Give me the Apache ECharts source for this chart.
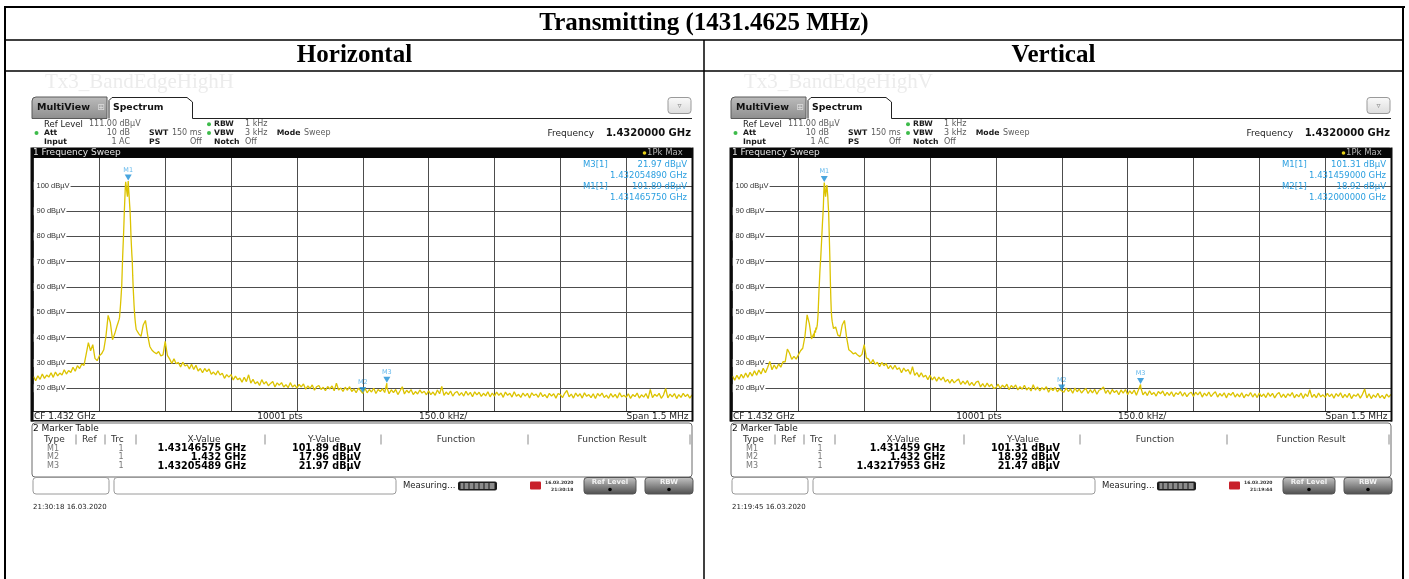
<!DOCTYPE html>
<html>
<head>
<meta charset="utf-8">
<title>Transmitting (1431.4625 MHz)</title>
<script src="https://cdn.jsdelivr.net/npm/echarts@6.0.0/dist/echarts.min.js"></script>
<style>
html, body { margin: 0; padding: 0; background: #fff; }
#chart { width: 1409px; height: 579px; }
</style>
</head>
<body>
<div id="chart"></div>
<script>
// ---------- measurement data ----------
const tableTitle = 'Transmitting (1431.4625 MHz)';
const centerFreqGHz = 1.432;
const spanKHz = 1500;
const sweepPoints = 10001;
const refLevel = 111;
const yTicks = [20, 30, 40, 50, 60, 70, 80, 90, 100];
const traceStepKHz = 5;            // spacing of the trace level lists below

// Horizontal polarisation
const hTitle = 'Horizontal';
const hFileName = 'Tx3_BandEdgeHighH';
// trace level (dBµV) every 5 kHz, starting at CF - 750 kHz
const hTraceLevels = [
  24.6, 23.0, 24.9, 23.5, 25.6, 23.9, 25.2, 24.4, 26.1, 24.3, 26.4, 24.9, 26.0, 25.2, 27.3, 25.6, 27.0, 26.2, 28.3, 26.7,
  28.9, 27.8, 29.6, 29.0, 33.5, 38.0, 34.8, 37.2, 31.8, 30.9, 32.8, 33.6, 35.2, 40.5, 48.8, 46.0, 39.2, 41.5,
  44.5, 47.2, 60.5, 80.2, 101.6, 99.5, 90.0, 70.2, 50.2, 42.8,
  41.5, 40.5, 45.0, 46.8, 41.0, 36.5, 35.0, 34.2, 33.6, 34.5, 32.8, 33.2, 38.5, 33.0,
  31.6, 29.8, 31.6, 29.7, 30.2, 28.4, 30.3, 28.8, 29.3, 27.6, 29.5, 27.4, 29.1, 26.8, 27.8, 26.1, 27.8, 26.6, 27.6, 25.5,
  26.4, 25.3, 26.9, 25.2, 25.9, 23.9, 25.4, 24.4, 25.4, 23.3, 24.8, 23.4, 24.0, 22.4, 24.3, 22.6, 25.3, 22.0,
  23.5, 21.8, 22.6, 21.1, 23.4, 21.7, 22.6, 21.0, 21.9, 22.7, 20.5, 22.1, 21.2, 22.2, 20.5, 21.4, 20.2, 22.2, 20.5, 21.3,
  20.0, 21.5, 20.5, 21.7, 19.6, 20.9, 19.9, 21.3, 19.2, 20.6, 21.1, 19.5, 20.4, 19.0, 20.7, 19.7, 20.9, 19.0, 22.0, 19.3,
  20.1, 18.7, 20.4, 19.2, 20.6, 18.7, 19.7, 18.2, 20.0, 19.1,
  17.96,
  20.0, 18.2, 19.5, 18.5, 20.0, 17.9, 19.5, 18.7, 19.8, 18.3, 20.3, 17.8, 19.4, 18.3, 19.5, 17.5, 19.0, 20.6, 17.7, 19.2,
  18.2, 19.5, 17.5, 18.7, 17.7, 19.3, 18.1, 18.8, 17.4,
  19.0, 17.5, 18.5, 17.2, 19.3, 17.8, 20.7, 17.2, 18.5, 17.5, 18.9, 16.9, 18.2, 18.7, 17.2, 18.3, 16.9, 18.8, 17.3, 18.4,
  16.6, 18.6, 17.4, 18.4, 16.8, 18.0, 17.0, 18.6, 16.6, 18.1,
  16.9, 18.5, 17.2, 18.1, 16.4, 18.5, 17.2, 18.0, 16.5, 18.6, 16.8, 17.6, 16.4, 18.1, 16.9, 18.0, 16.1, 18.2, 17.1, 17.7,
  16.4, 18.3, 16.7, 17.5, 16.2, 18.0, 16.9, 17.8, 16.1, 17.9,
  17.5, 16.3, 18.0, 19.1, 16.6, 17.7, 16.1, 18.1, 16.8, 17.8, 16.1, 18.2, 16.8, 17.5, 16.3, 17.8, 15.9, 17.9, 16.9, 18.1,
  16.3, 17.3, 16.0, 17.9, 16.5, 17.6, 16.1, 18.2, 16.6, 17.2,
  16.4, 17.8, 16.0, 17.5, 16.7, 18.1, 16.1, 17.4, 16.5, 17.9, 15.9, 19.5, 16.3, 17.6, 16.8, 18.0, 16.0, 17.3, 19.9, 16.2,
  17.7, 16.6, 17.9, 15.9, 17.5, 16.4, 18.0, 16.7, 17.6, 16.1, 17.4
];
// carrier detail, 1 kHz apart, from 190 kHz above the start frequency
const hPeakStartKHz = 190;
const hPeakLevels = [
  44.5, 45.2, 44.0, 46.1, 45.5, 47.2, 48.0, 50.3, 52.5, 55.0,
  57.8, 60.5, 66.0, 71.5, 76.0, 80.2, 85.0, 90.3, 94.5, 99.0,
  101.6, 100.2, 98.5, 97.0, 95.7, 99.8, 101.2, 98.0, 95.5, 92.5,
  90.0, 85.5, 80.3, 76.5, 73.0, 70.2, 64.5, 60.0, 56.5, 53.0,
  50.2, 47.8, 46.0, 44.5, 43.2, 42.8
];
const hMarkerNames = ['M1', 'M2', 'M3'];
const hMarkerFreqGHz = [1.43146575, 1.432, 1.43205489];
const hMarkerLevels = [101.89, 17.96, 21.97];
const hInfoMarkers = ['M3', 'M1'];
const hDate = '16.03.2020';
const hScreenTime = '21:30:18';
const hSavedAt = '21:30:18 16.03.2020';

// Vertical polarisation
const vTitle = 'Vertical';
const vFileName = 'Tx3_BandEdgeHighV';
const vTraceLevels = [
  24.8, 23.2, 25.1, 23.6, 25.5, 24.0, 26.0, 24.3, 26.3, 24.8, 26.9, 25.1, 27.2, 25.6, 27.9, 26.1, 28.2, 30.6, 27.3, 29.2,
  27.6, 29.6, 28.3, 30.5, 30.4, 35.5, 33.8, 31.4, 32.6, 31.5, 33.2, 34.8, 35.8, 40.5, 49.0, 45.5, 39.5,
  41.5, 44.0, 49.5, 69.0, 85.5, 99.8, 100.3, 83.0, 50.5, 43.6,
  44.2, 41.0, 40.5, 45.0, 46.8, 40.0, 35.2, 34.5, 33.6, 34.0, 33.1, 32.5, 33.4, 37.2, 32.0,
  31.5, 29.7, 31.3, 29.5, 30.3, 28.5, 30.2, 28.9, 29.8, 27.7, 29.0, 27.5, 29.1, 27.4, 28.1, 26.1, 28.0, 26.7, 27.4, 25.5,
  28.5, 25.1, 26.2, 24.5, 26.1, 24.4, 25.1, 23.4,
  25.1, 23.3, 24.5, 22.8, 24.4, 23.2, 24.4, 22.5, 23.5, 22.0,
  23.5, 22.1, 23.0, 23.6, 21.5, 22.8, 21.6, 23.0, 21.1, 22.3, 21.0, 22.4, 22.8, 20.5, 21.8, 20.4, 22.0, 20.6, 21.6, 19.9,
  20.2, 21.6, 19.9, 21.2, 20.3, 21.6, 19.4, 21.1, 20.1, 21.3, 19.3, 20.6, 19.6, 21.2, 19.3, 20.3, 18.9, 21.4, 19.3, 20.5,
  18.9, 20.2, 19.4, 20.6, 18.4, 20.1, 19.1, 20.3, 18.6, 19.7,
  18.92,
  18.4, 20.1, 18.7, 19.7, 18.0, 20.1, 18.6, 19.7, 18.1, 19.2, 19.9, 17.9, 19.4, 18.2, 19.6, 17.6, 19.2, 19.6, 20.5, 18.0,
  19.3, 17.6, 19.5, 18.3, 19.1, 17.4, 19.3, 18.1, 19.5,
  17.5, 19.0, 17.8, 19.3, 17.2, 19.5, 20.3, 17.4, 18.6, 17.1, 19.0, 17.5, 18.3, 16.9, 18.7, 17.8, 18.9, 17.0, 18.4, 17.2,
  18.6, 16.7, 18.2, 17.5, 18.7, 16.9, 18.3, 16.7, 17.9, 18.4,
  16.8, 18.4, 17.4, 18.6, 16.5, 18.1, 17.0, 18.5, 16.7, 17.8, 18.6, 16.5, 17.9, 16.9, 18.2, 16.2, 18.0, 17.2, 18.4, 16.5,
  17.8, 16.6, 18.2, 16.2, 17.6, 16.9, 18.3, 16.5, 17.9, 16.3,
  18.1, 16.7, 17.7, 16.3, 18.2, 16.8, 18.0, 16.2, 17.6, 18.3, 16.4, 17.7, 16.3, 17.8, 16.9, 18.3, 16.2, 17.6, 16.6, 18.1,
  16.0, 17.8, 16.7, 19.4, 16.4, 17.6, 16.2, 18.1, 16.6, 17.4,
  16.4, 18.0, 16.7, 17.7, 16.1, 17.9, 16.8, 18.2, 16.2, 17.6, 16.4, 18.0, 15.9, 17.4, 16.8, 17.8, 16.1, 17.6, 19.7, 16.2,
  17.8, 15.9, 17.4, 16.4, 18.0, 16.2, 17.2, 15.9, 17.7, 16.5, 17.6
];
const vPeakStartKHz = 185;
const vPeakLevels = [
  41.5, 40.2, 42.8, 43.5, 42.0, 44.0, 43.2, 42.5, 44.8, 47.0,
  49.5, 54.0, 58.5, 62.0, 66.0, 69.0, 71.5, 75.0, 78.5, 82.0,
  85.5, 88.5, 92.0, 97.5, 101.31, 99.8, 97.2, 95.7, 97.5, 99.2,
  100.3, 99.6, 96.0, 92.5, 89.5, 83.0, 76.5, 70.0, 62.0, 55.5,
  50.5, 48.0, 46.5, 45.8, 44.5, 43.6
];
const vMarkerNames = ['M1', 'M2', 'M3'];
const vMarkerFreqGHz = [1.431459, 1.432, 1.43217953];
const vMarkerLevels = [101.31, 18.92, 21.47];
const vInfoMarkers = ['M1', 'M2'];
const vDate = '16.03.2020';
const vScreenTime = '21:19:44';
const vSavedAt = '21:19:45 16.03.2020';

// ---------- helpers ----------
const UI = '"DejaVu Sans", Verdana, sans-serif';
const SERIF = '"Liberation Serif", "Times New Roman", serif';
const BLUE = '#2b9fe0';
const TRACE = '#dcc300';
const GRIDLINE = '#4d4d4d';

// kHz above the sweep start for a frequency in GHz
function startOffsetKHz(fGHz) {
  return Math.round(((fGHz - centerFreqGHz) * 1e6 + spanKHz / 2) * 1000) / 1000;
}

// Trace points as [kHz from CF, dBµV]; marker readings are part of the trace.
function buildTrace(levels, peakStart, peakLevels, mFreq, mLevel) {
  const pts = new Map();
  const peakEnd = peakStart + peakLevels.length - 1;
  levels.forEach((v, i) => {
    const k = i * traceStepKHz;
    if (k < peakStart || k > peakEnd) pts.set(k, v);
  });
  peakLevels.forEach((v, j) => pts.set(peakStart + j, v));
  mFreq.forEach((f, m) => pts.set(startOffsetKHz(f), mLevel[m]));
  return Array.from(pts.entries())
    .sort((a, b) => a[0] - b[0])
    .map(([k, v]) => [k - spanKHz / 2, v]);
}

function font(size, weight, family) {
  return (weight || 'normal') + ' ' + size + 'px ' + (family || UI);
}
function T(x, y, text, size, o) {
  o = o || {};
  const a = o.align || 'left';
  return {
    type: 'text', x: x, y: y, z: o.z || 20, silent: true,
    style: {
      text: text, font: font(size, o.weight, o.family), fill: o.color || '#222',
      align: a, verticalAlign: 'middle', textAlign: a, textVerticalAlign: 'middle'
    }
  };
}
function R(x, y, w, h, style, r, z) {
  return { type: 'rect', z: z || 10, silent: true, shape: { x: x, y: y, width: w, height: h, r: r || 0 }, style: style };
}
function L(x1, y1, x2, y2, color, w, z) {
  return { type: 'line', z: z || 15, silent: true, shape: { x1: x1, y1: y1, x2: x2, y2: y2 }, style: { stroke: color, lineWidth: w || 1 } };
}
function C(cx, cy, r, fill, z) {
  return { type: 'circle', z: z || 20, silent: true, shape: { cx: cx, cy: cy, r: r }, style: { fill: fill } };
}
function vgrad(top, bottom) {
  return new echarts.graphic.LinearGradient(0, 0, 0, 1, [{ offset: 0, color: top }, { offset: 1, color: bottom }]);
}

const panels = [
  { title: hTitle, fileName: hFileName, dx: 0, levels: hTraceLevels, peakStart: hPeakStartKHz, peak: hPeakLevels,
    names: hMarkerNames, freq: hMarkerFreqGHz, level: hMarkerLevels, info: hInfoMarkers,
    date: hDate, screenTime: hScreenTime, savedAt: hSavedAt },
  { title: vTitle, fileName: vFileName, dx: 699, levels: vTraceLevels, peakStart: vPeakStartKHz, peak: vPeakLevels,
    names: vMarkerNames, freq: vMarkerFreqGHz, level: vMarkerLevels, info: vInfoMarkers,
    date: vDate, screenTime: vScreenTime, savedAt: vSavedAt }
];

// Analyzer screen furniture around one plot
function panelChrome(p) {
  const g = [];
  const X = v => v + p.dx;
  g.push(T(X(45), 82, p.fileName, 21, { family: SERIF, color: '#ececec', z: 5 }));

  // tabs
  g.push(R(X(32), 97, 75, 21.5, { fill: vgrad('#bcbcbc', '#8e8e8e'), stroke: '#5a5a5a', lineWidth: 1 }, [4, 0, 0, 0]));
  g.push(T(X(37), 108, 'MultiView', 9.5, { weight: 'bold', color: '#111' }));
  g.push(T(X(101), 108, '\u229E', 9, { align: 'center', color: '#dedede' }));
  g.push(R(X(109), 97.5, 84, 21.5, { fill: '#fff' }));
  g.push({ type: 'polyline', z: 15, silent: true,
    shape: { points: [[X(109), 118.5], [X(109), 100.5], [X(112), 97.5], [X(187), 97.5], [X(192.5), 102], [X(192.5), 118.5]] },
    style: { stroke: '#222', lineWidth: 1, fill: null } });
  g.push(T(X(113), 108, 'Spectrum', 9.3, { weight: 'bold', color: '#111' }));
  g.push(L(X(192.5), 118.5, X(692), 118.5, '#222', 1));
  g.push(R(X(668), 97.5, 23, 16, { fill: vgrad('#fafafa', '#dcdcdc'), stroke: '#9a9a9a', lineWidth: 1 }, 3));
  g.push(T(X(679.5), 105.5, '\u25BF', 8, { align: 'center', color: '#888' }));

  // setting summary
  const r1 = 124.3, r2 = 133, r3 = 141.7;
  const lab = (x, y, s) => T(X(x), y, s, 7.7, { weight: 'bold', color: '#1a1a1a' });
  const val = (x, y, s, a) => T(X(x), y, s, 8, { color: '#5c5c5c', align: a });
  g.push(T(X(44), r1, 'Ref Level', 8.5, { color: '#1a1a1a' }));
  g.push(val(89, r1, refLevel.toFixed(2) + ' dB\u00B5V'));
  g.push(C(X(36.5), r2, 2, '#3dbb4a'));
  g.push(lab(44, r2, 'Att'));   g.push(val(130, r2, '10 dB', 'right'));
  g.push(lab(44, r3, 'Input')); g.push(val(130, r3, '1 AC', 'right'));
  g.push(lab(149, r2, 'SWT'));  g.push(val(201.7, r2, '150 ms', 'right'));
  g.push(lab(149, r3, 'PS'));   g.push(val(201.7, r3, 'Off', 'right'));
  g.push(C(X(209), r1, 2, '#3dbb4a'));
  g.push(C(X(209), r2, 2, '#3dbb4a'));
  g.push(lab(214, r1, 'RBW'));   g.push(val(245, r1, '1 kHz'));
  g.push(lab(214, r2, 'VBW'));   g.push(val(245, r2, '3 kHz'));
  g.push(lab(214, r3, 'Notch')); g.push(val(245, r3, 'Off'));
  g.push(lab(276.7, r2, 'Mode')); g.push(val(304, r2, 'Sweep'));
  g.push(T(X(594), 133.3, 'Frequency', 9, { align: 'right', color: '#1a1a1a' }));
  g.push(T(X(691), 133.3, centerFreqGHz.toFixed(7) + ' GHz', 10, { align: 'right', weight: 'bold', color: '#111' }));

  // sweep title bar
  g.push(R(X(31.5), 147.5, 661, 10.5, { fill: '#060606' }, [2, 2, 0, 0]));
  g.push(T(X(33), 153, '1 Frequency Sweep', 9, { color: '#e2e2e2' }));
  g.push(C(X(644.5), 153, 1.8, '#e8d21a'));
  g.push(T(X(647), 153, '1Pk Max', 8.5, { color: '#b5b5b5' }));

  // plot frame
  g.push(R(X(30.5), 147.5, 3, 274, { fill: '#0a0a0a' }, 0, 12));
  g.push(R(X(691.5), 147.5, 2, 274, { fill: '#0a0a0a' }, 0, 12));

  // plot footer
  g.push(L(X(31), 420.8, X(693), 420.8, '#111', 1.5));
  g.push(T(X(34), 416.3, 'CF ' + centerFreqGHz + ' GHz', 9));
  g.push(T(X(280), 416.3, sweepPoints + ' pts', 9, { align: 'center' }));
  g.push(T(X(419), 416.3, (spanKHz / 10).toFixed(1) + ' kHz/', 9));
  g.push(T(X(688.5), 416.3, 'Span ' + spanKHz / 1000 + ' MHz', 9, { align: 'right' }));

  // marker readout in the plot corner
  p.info.forEach((name, k) => {
    const m = p.names.indexOf(name);
    const y0 = 165 + k * 22;
    g.push(T(X(583), y0, name + '[1]', 8.5, { color: BLUE, z: 30 }));
    g.push(T(X(687), y0, p.level[m].toFixed(2) + ' dB\u00B5V', 8.5, { color: BLUE, align: 'right', z: 30 }));
    g.push(T(X(687), y0 + 11, p.freq[m].toFixed(9) + ' GHz', 8.5, { color: BLUE, align: 'right', z: 30 }));
  });

  // marker table
  g.push(R(X(32), 423, 660, 54, { fill: '#fff', stroke: '#6a6a6a', lineWidth: 1 }, 3));
  g.push(T(X(33), 429, '2 Marker Table', 9, { color: '#111' }));
  [76, 105, 136, 265, 381, 528, 690].forEach(sx => g.push(L(X(sx), 434.5, X(sx), 444.5, '#8a8a8a', 1)));
  const hy = 439.5;
  g.push(T(X(44), hy, 'Type', 9, { color: '#333' }));
  g.push(T(X(82), hy, 'Ref', 9, { color: '#333' }));
  g.push(T(X(111), hy, 'Trc', 9, { color: '#333' }));
  g.push(T(X(204), hy, 'X-Value', 9, { color: '#333', align: 'center' }));
  g.push(T(X(324), hy, 'Y-Value', 9, { color: '#333', align: 'center' }));
  g.push(T(X(456), hy, 'Function', 9, { color: '#333', align: 'center' }));
  g.push(T(X(612), hy, 'Function Result', 9, { color: '#333', align: 'center' }));
  p.names.forEach((name, m) => {
    const ry = 448.8 + m * 8.6;
    g.push(T(X(47), ry, name, 8, { color: '#777' }));
    g.push(T(X(121), ry, '1', 8, { color: '#777', align: 'center' }));
    g.push(T(X(246), ry, String(p.freq[m]) + ' GHz', 9.6, { weight: 'bold', color: '#000', align: 'right' }));
    g.push(T(X(361), ry, p.level[m].toFixed(2) + ' dB\u00B5V', 9.6, { weight: 'bold', color: '#000', align: 'right' }));
  });

  // status bar
  const sy = 477.5, sh = 16.5;
  g.push(R(X(33), sy, 76, sh, { fill: '#fff', stroke: '#9a9a9a', lineWidth: 1 }, 3));
  g.push(R(X(114), sy, 282, sh, { fill: '#fff', stroke: '#9a9a9a', lineWidth: 1 }, 3));
  g.push(T(X(403), 486, 'Measuring...', 8.5, { color: '#222' }));
  g.push(R(X(458), 481.5, 39, 9, { fill: '#1c1c1c' }, 2));
  g.push(R(X(460.5), 483, 34, 6, { fill: '#8c8c8c' }, 0, 11));
  [0, 1, 2, 3, 4, 5].forEach(s => g.push(L(X(464 + s * 5), 483, X(464 + s * 5), 489, '#2a2a2a', 1.2, 16)));
  g.push(R(X(530), 481.5, 11, 8, { fill: '#c8202a' }, 1));
  g.push(T(X(545), 482.5, p.date, 4.5, { weight: 'bold', color: '#333' }));
  g.push(T(X(551), 490, p.screenTime, 4.5, { weight: 'bold', color: '#333' }));
  g.push(R(X(584), sy, 52, sh, { fill: vgrad('#c6c6c6', '#4c4c4c'), stroke: '#555', lineWidth: 1 }, 3));
  g.push(T(X(610), 482.5, 'Ref Level', 7, { align: 'center', weight: 'bold', color: '#f2f2f2' }));
  g.push(C(X(610), 489.5, 1.8, '#000'));
  g.push(R(X(645), sy, 48, sh, { fill: vgrad('#c6c6c6', '#4c4c4c'), stroke: '#555', lineWidth: 1 }, 3));
  g.push(T(X(669), 482.5, 'RBW', 7, { align: 'center', weight: 'bold', color: '#f2f2f2' }));
  g.push(C(X(669), 489.5, 1.8, '#000'));

  g.push(T(X(33), 507, p.savedAt, 7, { color: '#222' }));
  return g;
}

// report table ruling and headings
const tableGraphics = [
  L(4, 7, 1405, 7, '#000', 2),
  L(5, 6, 5, 579, '#000', 2),
  L(1403, 6, 1403, 579, '#000', 2),
  L(4, 40, 1404, 40, '#000', 1.5),
  L(4, 71, 1404, 71, '#000', 1.5),
  L(704, 40, 704, 579, '#000', 1.5),
  T(704, 23.5, tableTitle, 25, { weight: 'bold', family: SERIF, align: 'center', color: '#000' }),
  T(354.5, 55.5, hTitle, 25, { weight: 'bold', family: SERIF, align: 'center', color: '#000' }),
  T(1053.5, 55.5, vTitle, 25, { weight: 'bold', family: SERIF, align: 'center', color: '#000' })
];

// ---------- chart ----------
const grids = [], xAxes = [], yAxes = [], series = [];
let graphics = tableGraphics.slice();

panels.forEach((p, k) => {
  grids.push({ left: 33.5 + p.dx, top: 158, width: 658.5, height: 253 });
  xAxes.push({
    type: 'value', gridIndex: k, min: -spanKHz / 2, max: spanKHz / 2, interval: spanKHz / 10,
    axisLine: { show: true, onZero: false, lineStyle: { color: '#222', width: 1 } },
    axisTick: { show: false }, axisLabel: { show: false },
    splitLine: { show: true, lineStyle: { color: GRIDLINE, width: 1 } }
  });
  const yBase = {
    type: 'value', gridIndex: k, min: refLevel - 100, max: refLevel, position: 'left',
    axisLine: { show: false }, axisTick: { show: false, customValues: yTicks }
  };
  yAxes.push(Object.assign({}, yBase, {
    z: 0,
    axisLabel: { show: false, customValues: yTicks },
    splitLine: { show: true, lineStyle: { color: GRIDLINE, width: 1 } }
  }));
  yAxes.push(Object.assign({}, yBase, {
    z: 1,
    splitLine: { show: false },
    axisLabel: {
      customValues: yTicks, inside: true, margin: 0,
      formatter: v => v + ' dB\u00B5V',
      color: '#333', fontSize: 7.5, fontFamily: '"Liberation Sans", Arial, sans-serif',
      backgroundColor: '#fff', padding: [0, 1, 0, 3]
    }
  }));

  series.push({
    type: 'line', xAxisIndex: k, yAxisIndex: 2 * k + 1, z: 3, silent: true,
    data: buildTrace(p.levels, p.peakStart, p.peak, p.freq, p.level),
    showSymbol: false, symbol: 'none',
    lineStyle: { color: TRACE, width: 1.3 }
  });
  series.push({
    type: 'scatter', xAxisIndex: k, yAxisIndex: 2 * k + 1, z: 5, silent: true,
    symbol: 'triangle', symbolRotate: 180, symbolSize: [7, 6], symbolOffset: [0, -3.5],
    itemStyle: { color: '#1b8fd6' },
    label: { show: true, position: 'top', distance: 1, formatter: '{b}', fontSize: 6.5, color: '#3aa5e6', fontFamily: UI },
    data: p.names.map((n, m) => ({ name: n, value: [startOffsetKHz(p.freq[m]) - spanKHz / 2, p.level[m]] }))
  });

  graphics = graphics.concat(panelChrome(p));
});

const chart = echarts.init(document.getElementById('chart'), null, { renderer: 'canvas' });
chart.setOption({
  animation: false,
  backgroundColor: '#fff',
  grid: grids,
  xAxis: xAxes,
  yAxis: yAxes,
  series: series,
  graphic: { elements: graphics }
});
</script>
</body>
</html>
